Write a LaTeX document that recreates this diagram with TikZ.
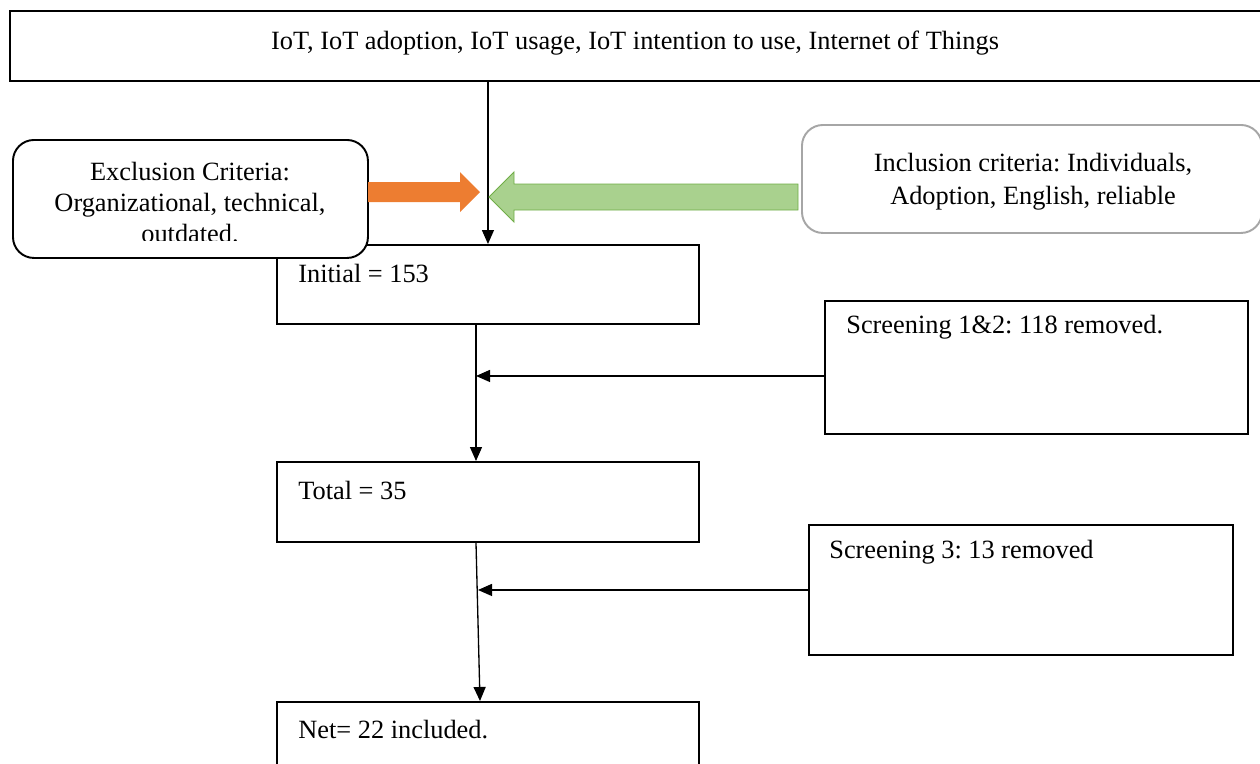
\documentclass[tikz,border=0pt]{standalone}
\usepackage{fontspec}
\setmainfont{Liberation Serif}
\usepackage{tikz}
\usetikzlibrary{arrows.meta,positioning,calc}
\definecolor{exclorange}{HTML}{ED7D31}
\definecolor{inclgreen}{HTML}{A9D18E}
\definecolor{inclgreenline}{HTML}{70AD47}
\definecolor{inclgray}{HTML}{A6A6A6}
\frenchspacing

\begin{document}
\begin{tikzpicture}[
    font=\fontsize{15}{17}\selectfont,
    box/.style={draw,line width=1.1pt,rectangle,inner sep=0pt},
    critbox/.style={draw,line width=1.1pt,rounded corners=0.42cm,fill=white,inner sep=0pt},
    flow/.style={-{Triangle[length=0.28cm,width=0.24cm]},line width=0.75pt},
    boxtext/.style={anchor=west,inner sep=0pt}
  ]
        \useasboundingbox (0,0) rectangle (25.2,-15.26);
        \clip (0,0) rectangle (25.2,-15.26);
        % search terms
        \node[box,minimum width=25.06cm,minimum height=1.4cm,anchor=north west] (terms) at (0.18,-0.2) {};
        \node (termstext) at (12.7,-0.86) {IoT, IoT adoption, IoT usage, IoT intention to use, Internet of Things};
        % flow boxes
        \node[box,minimum width=8.44cm,minimum height=1.58cm,anchor=north west] (init) at (5.52,-4.88) {};
        \node[box,minimum width=8.44cm,minimum height=1.6cm,anchor=north west] (total) at (5.52,-9.22) {};
        \node[box,minimum width=8.44cm,minimum height=2.2cm,anchor=north west] (net) at (5.52,-14.02) {};
        \node[box,minimum width=8.46cm,minimum height=2.66cm,anchor=north west] (scr1) at (16.48,-6.0) {};
        \node[box,minimum width=8.48cm,minimum height=2.6cm,anchor=north west] (scr3) at (16.16,-10.48) {};
        \node[boxtext] (inittext) at ($(init.north west)+(0.44,-0.58)$) {Initial = 153};
        \node[boxtext] (totaltext) at ($(total.north west)+(0.44,-0.58)$) {Total = 35};
        \node[boxtext] (nettext) at ($(net.north west)+(0.44,-0.58)$) {Net= 22 included.};
        \node[boxtext] (scr1text) at ($(scr1.north west)+(0.44,-0.54)$) {Screening 1\&2: 118 removed.};
        \node[boxtext] (scr3text) at ($(scr3.north west)+(0.42,-0.56)$) {Screening 3: 13 removed};
        % connectors
        \coordinate (spine) at (9.52,0);
        \coordinate (scr1in) at ($(scr1.west)+(0,-0.17)$);
        \draw[flow] (terms.south -| init.north) -- (init.north);
        \draw[flow] (init.south -| spine) -- (total.north -| spine);
        \draw[flow] (total.south -| spine) -- ($(net.north -| spine)+(0.08,0)$);
        \draw[flow] (scr1in) -- (scr1in -| spine);
        \draw[flow] (scr3.west) -- ($(scr3.west -| spine)+(0.04,0)$);
        % criteria boxes and block arrows
        \node[critbox,minimum width=7.1cm,minimum height=2.36cm,anchor=north west] (excl) at (0.24,-2.78) {};
        \begin{scope}
          \clip (0.24,-2.78) rectangle (7.34,-4.8);
          \node[align=center,inner sep=0pt,anchor=north] (excltext) at (3.8,-3.24) {Exclusion Criteria:\\[0.02cm]Organizational, technical,\\[0.02cm]outdated.};
        \end{scope}
        \node[critbox,draw=inclgray,minimum width=9.2cm,minimum height=2.16cm,anchor=north west] (incl) at (16.02,-2.48) {};
        \node[align=center,inner sep=0pt] (incltext) at (20.66,-3.64) {Inclusion criteria: Individuals,\\[0.06cm]Adoption, English, reliable};
        \fill[exclorange] (7.36,-3.64) -- (9.2,-3.64) -- (9.2,-3.44) -- (9.6,-3.84)
          -- (9.2,-4.24) -- (9.2,-4.04) -- (7.36,-4.04) -- cycle;
        \filldraw[fill=inclgreen,draw=inclgreenline,line width=0.5pt] (15.96,-3.68) -- (10.28,-3.68) -- (10.28,-3.44)
          -- (9.78,-3.94) -- (10.28,-4.44) -- (10.28,-4.2) -- (15.96,-4.2) -- cycle;
      \end{tikzpicture}
\end{document}
